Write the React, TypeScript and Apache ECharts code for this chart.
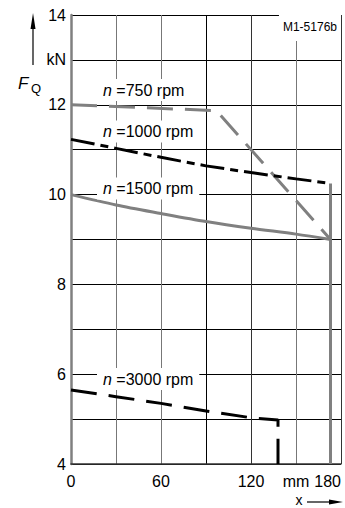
import React, { useEffect, useRef } from "react";
import * as echarts from "echarts";

const FONT = "'Liberation Sans', Arial, Helvetica, sans-serif";

// x in mm, F_Q in kN
const rpm750: [number, number][] = [[0, 12.0], [97, 11.87], [173, 9.0]];
const rpm1000: [number, number][] = [[0, 11.23], [30, 11.03], [60, 10.83], [90, 10.64], [120, 10.49], [150, 10.35], [173, 10.25]];
const rpm1500: [number, number][] = [[0, 10.0], [30, 9.77], [60, 9.58], [90, 9.4], [120, 9.25], [150, 9.12], [173, 9.0]];
const rpm3000: [number, number][] = [[0, 5.65], [30, 5.5], [60, 5.35], [90, 5.18], [120, 5.03], [138, 4.98], [138, 4.0]];
const limitLine: [number, number][] = [[173, 10.25], [173, 4.0]];

const xTickLabels: Record<number, string> = { 0: "0", 60: "60", 120: "120", 150: "mm", 180: "180" };
const yTickLabels: Record<number, string> = { 14: "14", 13: "kN", 12: "12", 10: "10", 8: "8", 6: "6", 4: "4" };

const seriesLabels = ["750", "1000", "1500", "3000"];

const GRAY = "#808080";

export default function App() {
  const ref = useRef<HTMLDivElement>(null);
  useEffect(() => {
    if (!ref.current) return;
    const chart = echarts.init(ref.current, undefined, { renderer: "svg" });
    const labelY = [90, 131.5, 188.5, 379];
    const rich = {
      i: { fontStyle: "italic", fontSize: 16, fontFamily: FONT, fill: "#000" },
      r: { fontSize: 16, fontFamily: FONT, fill: "#000" },
    };
    const textLabels = seriesLabels.map((s, k) => ({
      type: "text",
      x: 97,
      y: labelY[k],
      z: 100,
      style: {
        text: `{i|n}{r| =${s} rpm}`,
        rich,
        fontSize: 16,
        fontFamily: FONT,
        verticalAlign: "middle",
        align: "left",
        backgroundColor: "#fff",
        padding: [3, 6, 3, 6],
      },
    }));
    chart.setOption({
      animation: false,
      grid: { left: 71, right: 4, top: 15, bottom: 44, containLabel: false },
      xAxis: {
        type: "value",
        min: 0,
        max: 180,
        interval: 30,
        axisLine: { show: true, lineStyle: { color: "#333", width: 1.5 } },
        axisTick: { show: false },
        axisLabel: {
          color: "#000",
          fontSize: 16,
          fontFamily: FONT,
          margin: 9,
          alignMaxLabel: "right",
          formatter: (v: number) => xTickLabels[v] ?? "",
        },
        splitLine: {
          show: true,
          lineStyle: { color: ["#000", "#777", "#777", "#000", "#333", "#777", "#333"], width: 1 },
        },
      },
      yAxis: {
        type: "value",
        min: 4,
        max: 14,
        interval: 1,
        axisLine: { show: true, lineStyle: { color: GRAY, width: 2.5 } },
        axisTick: { show: false },
        axisLabel: {
          color: "#000",
          fontSize: 16,
          fontFamily: FONT,
          margin: 5,
          formatter: (v: number) => yTickLabels[v] ?? "",
        },
        splitLine: { show: true, lineStyle: { color: "#000", width: 1 } },
      },
      series: [
        {
          type: "line",
          data: rpm750,
          symbol: "none",
          lineStyle: { color: GRAY, width: 3, type: [26, 12] },
        },
        {
          type: "line",
          data: rpm1000,
          symbol: "none",
          lineStyle: { color: "#000", width: 3, type: [24, 6, 8, 6] },
        },
        {
          type: "line",
          data: rpm1500,
          symbol: "none",
          smooth: 0.3,
          lineStyle: { color: GRAY, width: 3 },
        },
        {
          type: "line",
          data: rpm3000,
          symbol: "none",
          lineStyle: { color: "#000", width: 3, type: [26, 12] },
        },
        {
          type: "line",
          data: limitLine,
          symbol: "none",
          lineStyle: { color: GRAY, width: 3 },
        },
      ],
      graphic: [
        ...textLabels,
        {
          type: "text",
          x: 341,
          y: 27,
          z: 100,
          style: {
            text: "M1-5176b",
            fontSize: 12,
            fontFamily: FONT,
            fill: "#000",
            align: "right",
            verticalAlign: "middle",
            backgroundColor: "#fff",
            padding: [8, 4, 8, 4],
          },
        },
        {
          type: "text",
          x: 18,
          y: 83,
          style: { text: "F", fontSize: 17, fontStyle: "italic", fontFamily: FONT, fill: "#000", verticalAlign: "middle" },
        },
        {
          type: "text",
          x: 31,
          y: 88.5,
          style: { text: "Q", fontSize: 13, fontFamily: FONT, fill: "#000", verticalAlign: "middle" },
        },
        { type: "line", shape: { x1: 33, y1: 65, x2: 33, y2: 26 }, style: { stroke: "#000", lineWidth: 1.2 } },
        { type: "polygon", shape: { points: [[30.5, 29], [35.5, 29], [33, 13]] }, style: { fill: "#000" } },
        {
          type: "text",
          x: 299,
          y: 500,
          style: { text: "x", fontSize: 14, fontFamily: FONT, fill: "#000", align: "center", verticalAlign: "middle" },
        },
        { type: "line", shape: { x1: 307, y1: 502, x2: 333, y2: 502 }, style: { stroke: "#000", lineWidth: 1.2 } },
        { type: "polygon", shape: { points: [[329, 499.5], [329, 504.5], [343, 502]] }, style: { fill: "#000" } },
      ],
    });
    return () => chart.dispose();
  }, []);
  return <div ref={ref} style={{ width: 345, height: 508, position: "absolute", left: 0, top: 0 }} />;
}
